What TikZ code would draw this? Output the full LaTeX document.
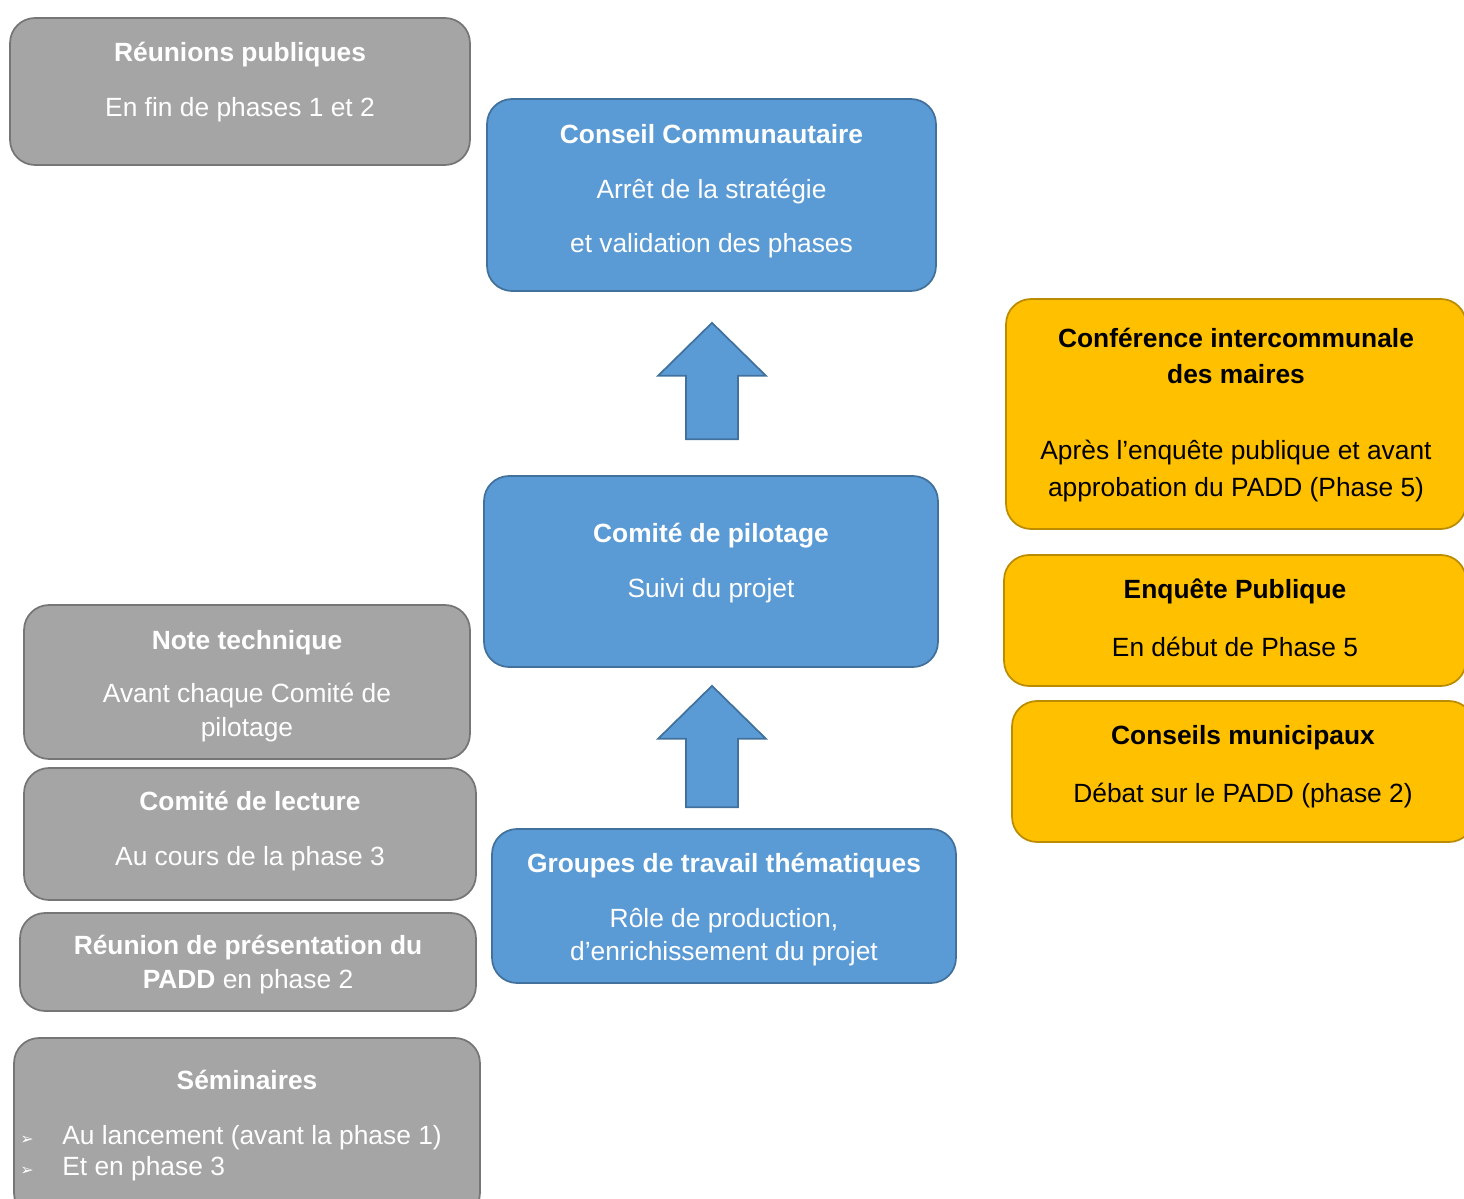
\documentclass[tikz,border=0pt]{standalone}
\usepackage{fontspec}
\setmainfont{Liberation Sans}
\newfontfamily\bulletfont{DejaVu Sans}
\usetikzlibrary{positioning,calc}
\definecolor{greyFill}{RGB}{165,165,165}
\definecolor{greyLine}{RGB}{118,118,118}
\definecolor{blueFill}{RGB}{91,155,213}
\definecolor{blueLine}{RGB}{65,113,156}
\definecolor{yellowFill}{RGB}{255,192,0}
\definecolor{yellowLine}{RGB}{188,140,0}
\newcommand\bulletitem{\makebox[0.84cm][l]{\bulletfont\fontsize{9}{9}\selectfont ➢}}
% block arrow pointing up, from tail point #1 to tip point #2
\newcommand\upblock[2]{%
  \draw[arrowblk] ($(#1)+(-26,0)$) -- ($(#2)+(-26,53)$) -- ($(#2)+(-54,53)$)
    -- (#2) -- ($(#2)+(54,53)$) -- ($(#2)+(26,53)$) -- ($(#1)+(26,0)$) -- cycle;}
\tikzset{
  box/.style={rounded corners=0.5cm, line width=1pt, inner sep=0pt},
  greybox/.style={box, fill=greyFill, draw=greyLine},
  bluebox/.style={box, fill=blueFill, draw=blueLine},
  yellowbox/.style={box, fill=yellowFill, draw=yellowLine},
  txt/.style={anchor=north, align=center, inner sep=0pt, yshift=-0.04cm,
    font=\fontsize{15}{19.3}\selectfont},
  whitetxt/.style={txt, text=white},
  blacktxt/.style={txt, text=black},
  arrowblk/.style={fill=blueFill, draw=blueLine, line width=1pt, line join=miter}
}
\begin{document}
\begin{tikzpicture}[x=0.02cm, y=-0.02cm]
    \clip (0,0) rectangle (1464,1199);
    % --- left column: grey boxes ---
    \node[greybox, minimum width=9.2cm, minimum height=2.94cm] (reunions) at (240,91.5) {};
    \node[whitetxt] (reunions-t) at (240,35)
      {\strut\textbf{Réunions publiques}\\[12pt] En fin de phases 1 et 2};
    \node[greybox, minimum width=8.92cm, minimum height=3.08cm] (note) at (247,682) {};
    \node[whitetxt] (note-t) at (247,623)
      {\strut\textbf{Note technique}\\[11.3pt] Avant chaque Comité de\\ pilotage};
    \node[greybox, minimum width=9.04cm, minimum height=2.64cm] (lecture) at (250,834) {};
    \node[whitetxt] (lecture-t) at (250,784)
      {\strut\textbf{Comité de lecture}\\[12pt] Au cours de la phase 3};
    \node[greybox, minimum width=9.12cm, minimum height=1.96cm] (presentation) at (248,962) {};
    \node[whitetxt] (presentation-t) at (248,928)
      {\strut\textbf{Réunion de présentation du}\\ \textbf{PADD} en phase 2};
    \node[greybox, minimum width=9.32cm, minimum height=3.6cm] (seminaires) at (247,1128) {};
    \node[whitetxt] (seminaires-t) at (247,1063) {\strut\textbf{Séminaires}};
    \node[whitetxt, anchor=north west, align=left] (seminaires-l) at (20,1118)
      {\strut\bulletitem Au lancement (avant la phase 1)\\[-1.7pt]
       \bulletitem Et en phase 3};
    % --- middle column: blue boxes ---
    \node[bluebox, minimum width=8.98cm, minimum height=3.84cm] (conseil) at (711.5,195) {};
    \node[whitetxt] (conseil-t) at (711.5,117)
      {\strut\textbf{Conseil Communautaire}\\[12.4pt] Arrêt de la stratégie\\[11.3pt] et validation des phases};
    \node[bluebox, minimum width=9.08cm, minimum height=3.82cm] (copil) at (711,571.5) {};
    \node[whitetxt] (copil-t) at (711,516)
      {\strut\textbf{Comité de pilotage}\\[12pt] Suivi du projet};
    \node[bluebox, minimum width=9.28cm, minimum height=3.08cm] (groupes) at (724,906) {};
    \node[whitetxt] (groupes-t) at (724,846)
      {\strut\textbf{Groupes de travail thématiques}\\[12pt] Rôle de production,\\ d’enrichissement du projet};
    % --- right column: yellow boxes ---
    \node[yellowbox, minimum width=9.2cm, minimum height=4.6cm] (conference) at (1236,414) {};
    \node[blacktxt] (conference-t) at (1236,321)
      {\strut\textbf{Conférence intercommunale}\\[1.7pt] \textbf{des maires}\\[23.8pt]
       Après l’enquête publique et avant\\[1.7pt] approbation du PADD (Phase 5)};
    \node[yellowbox, minimum width=9.24cm, minimum height=2.62cm] (enquete) at (1235,620.5) {};
    \node[blacktxt] (enquete-t) at (1235,572)
      {\strut\textbf{Enquête Publique}\\[14.2pt] En début de Phase 5};
    \node[yellowbox, minimum width=9.24cm, minimum height=2.82cm] (conseils) at (1243,771.5) {};
    \node[blacktxt] (conseils-t) at (1243,718)
      {\strut\textbf{Conseils municipaux}\\[14.2pt] Débat sur le PADD (phase 2)};
    % --- block arrows ---
    \coordinate (up1-tail) at ($(copil.north)+(1,-36)$);
    \coordinate (up1-tip) at ($(conseil.south)+(0.5,31)$);
    \coordinate (up2-tail) at ($(groupes.north)+(-12,-21)$);
    \coordinate (up2-tip) at ($(copil.south)+(1,18)$);
    \upblock{up1-tail}{up1-tip}
    \upblock{up2-tail}{up2-tip}
  \end{tikzpicture}
\end{document}
